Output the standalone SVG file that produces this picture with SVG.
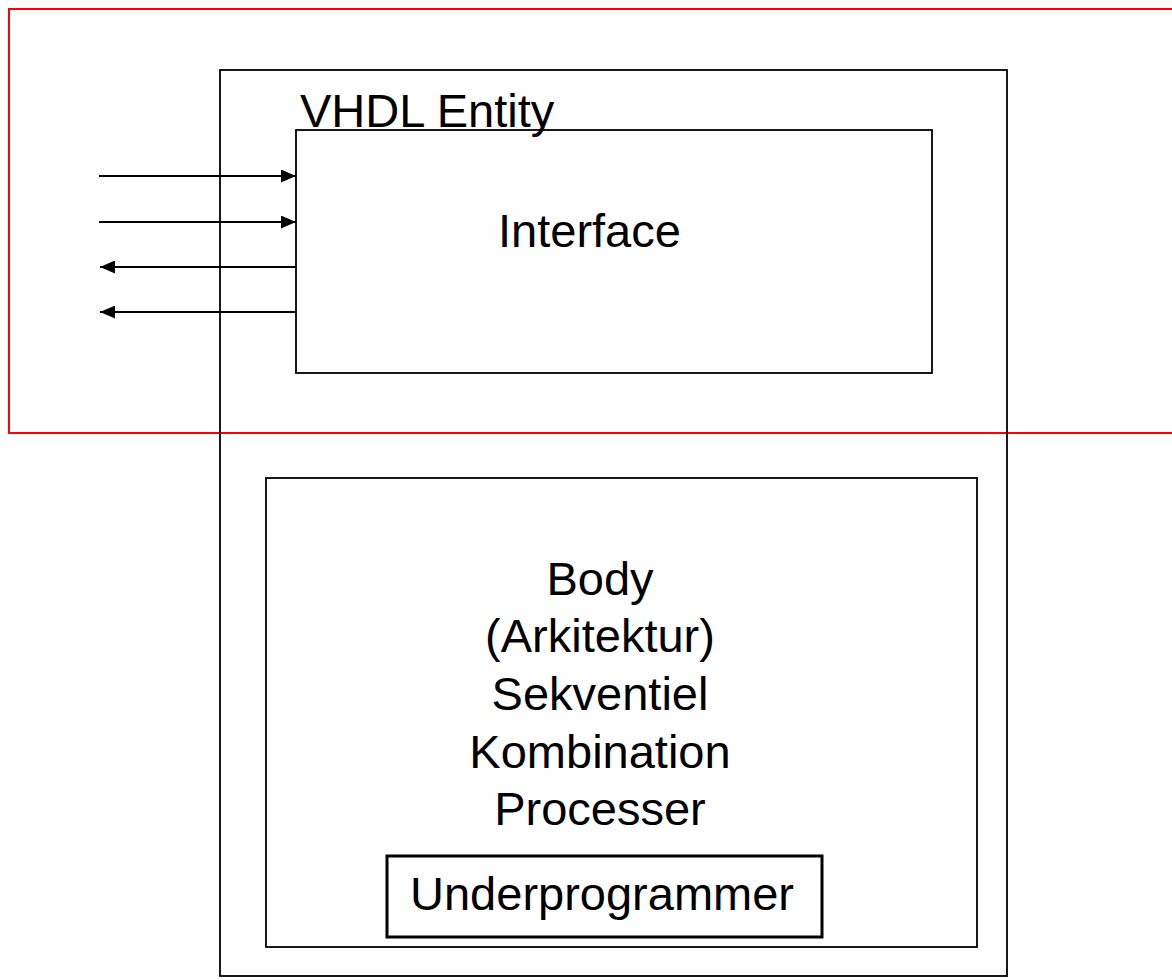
<svg xmlns="http://www.w3.org/2000/svg" width="1172" height="980" viewBox="0 0 1172 980">
<style>
.box{fill:none;stroke:#000;stroke-width:1.8}
.t{font-family:"Liberation Sans",Arial,sans-serif;font-size:47px;fill:#000}
.c{text-anchor:middle}
.conn{stroke:#000;stroke-width:2;fill:none}
</style>
<defs>
<marker id="ah" viewBox="0 0 15 13" refX="15" refY="6.5" markerWidth="15" markerHeight="13" markerUnits="userSpaceOnUse" orient="auto">
<path d="M0,0 L15,6.5 L0,13 Z" fill="#000"/>
</marker>
</defs>
<rect width="1172" height="980" fill="#fff"/>
<g id="highlight">
<rect x="9" y="9" width="1200" height="424" fill="none" stroke="#f00" stroke-width="2"/>
</g>
<g id="entity">
<rect class="box" x="220" y="70" width="787" height="906" stroke-width="2"/>
<text class="t" x="300" y="127">VHDL Entity</text>
</g>
<g id="interface">
<rect class="box" x="296" y="130" width="636" height="243" fill="#fff"/>
<text class="t" x="498" y="247">Interface</text>
</g>
<g id="body">
<rect class="box" x="266" y="478" width="711" height="469"/>
<text class="t c" x="600" y="595">Body</text>
<text class="t c" x="600" y="652">(Arkitektur)</text>
<text class="t c" x="600" y="710">Sekventiel</text>
<text class="t c" x="600" y="768">Kombination</text>
<text class="t c" x="600" y="825">Processer</text>
</g>
<g id="underprogrammer">
<rect x="387" y="856" width="435" height="81" fill="none" stroke="#000" stroke-width="3"/>
<text class="t c" x="602" y="910">Underprogrammer</text>
</g>
<g id="connectors">
<line class="conn" x1="99" y1="176" x2="296" y2="176" marker-end="url(#ah)"/>
<line class="conn" x1="99" y1="222" x2="296" y2="222" marker-end="url(#ah)"/>
<line class="conn" x1="296" y1="267" x2="100" y2="267" marker-end="url(#ah)"/>
<line class="conn" x1="296" y1="312" x2="100" y2="312" marker-end="url(#ah)"/>
</g>
</svg>
